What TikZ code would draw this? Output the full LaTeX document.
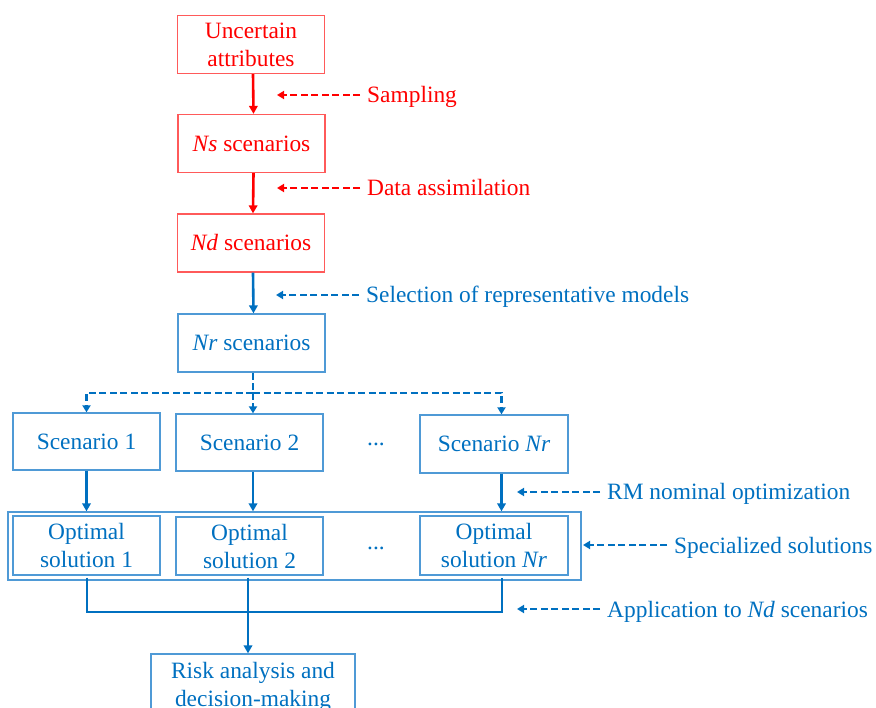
\documentclass[tikz,border=0pt]{standalone}
\usepackage{fontspec}
\setmainfont{Liberation Serif}
\usetikzlibrary{arrows.meta}
\definecolor{rd}{HTML}{FF0000}
\definecolor{rdbox}{HTML}{FF5A5A}
\definecolor{bl}{HTML}{0070C0}
\definecolor{blbox}{HTML}{4F9AD6}
\begin{document}
\begin{tikzpicture}[x=1pt,y=-1pt,
  every node/.style={font=\fontsize{23.4}{28}\selectfont, align=center, inner sep=0pt},
  box/.style={draw, line width=1.3pt, minimum width=147pt, minimum height=58pt},
  redbox/.style={box, draw=rdbox, text=rd},
  bluebox/.style={box, draw=blbox, text=bl},
  flow/.style={line width=2.6pt, -{Triangle[length=8pt,width=8.5pt]}},
  plain/.style={line width=2.6pt},
  hint/.style={line width=2.6pt, dash pattern=on 7pt off 3.5pt, -{Triangle[length=7pt,width=8pt]}},
  dashline/.style={line width=2.6pt, dash pattern=on 7pt off 3.5pt},
  lbl/.style={anchor=base west}]
\useasboundingbox (0,0) rectangle (876,708);

% red part of the chain
\node[redbox] (ua) at (251,44.5) {Uncertain\\attributes};
\node[redbox] (ns) at (251.5,143.5) {\textit{Ns} scenarios};
\node[redbox] (nd) at (251,243) {\textit{Nd} scenarios};
\node[bluebox] (nr) at (251.5,343) {\textit{Nr} scenarios};

\draw[flow, rd] ([xshift=2pt]ua.south) -- ([xshift=2pt]ns.north);
\draw[flow, rd] ([xshift=2pt]ns.south) -- ([xshift=2pt]nd.north);
\draw[flow, bl] ([xshift=2pt]nd.south) -- ([xshift=2pt]nr.north);

% side notes of the chain
\node[lbl, text=rd] (samp) at (367,103) {Sampling};
\node[lbl, text=rd] (assim) at (367,196) {Data assimilation};
\node[lbl, text=bl] (sel) at (366,303) {Selection of representative models};
\coordinate (sampT) at (277,95);
\coordinate (assimT) at (277,188);
\coordinate (selT) at (276,295);
\draw[hint, rd] (sampT -| samp.west) ++(-7pt,0) -- (sampT);
\draw[hint, rd] (assimT -| assim.west) ++(-7pt,0) -- (assimT);
\draw[hint, bl] (selT -| sel.west) ++(-7pt,0) -- (selT);

% scenarios
\node[bluebox, minimum height=57pt] (s1) at (86.5,441.5) {Scenario 1};
\node[bluebox, minimum height=57pt] (s2) at (249.5,442.5) {Scenario 2};
\node[bluebox, minimum width=148pt] (sN) at (494,444) {Scenario \textit{Nr}};
\node[text=bl] (dots1) at (376,444) {...};

\coordinate (sp) at (253,393);
\draw[dashline, bl] ([xshift=1.5pt]nr.south) -- (sp);
\draw[hint, bl] (sp) -| (s1.north);
\draw[hint, bl] (sp) -- (s2.north -| sp);
\draw[hint, bl] (sp) -| ([xshift=7.5pt]sN.north);

% optimal solutions
\node[draw=blbox, line width=1.3pt, minimum width=573pt, minimum height=68pt] (outer) at (294.5,546) {};
\node[bluebox, minimum height=59pt] (o1) at (86.5,545.5) {Optimal\\solution 1};
\node[bluebox] (o2) at (249.5,546) {Optimal\\solution 2};
\node[bluebox, minimum width=148pt, minimum height=59pt] (oN) at (494,545.5) {Optimal\\solution \textit{Nr}};
\node[text=bl] (dots2) at (376,548) {...};

\draw[flow, bl] (s1.south) -- (s1.south |- outer.north);
\draw[flow, bl] ([xshift=3.5pt]s2.south) -- ([xshift=3.5pt]s2.south |- outer.north);
\draw[flow, bl] ([xshift=7.5pt]sN.south) -- ([xshift=7.5pt]sN.south |- outer.north);

\node[lbl, text=bl] (rmopt) at (607,500) {RM nominal optimization};
\node[lbl, text=bl] (spec) at (674,553) {Specialized solutions};
\coordinate (rmT) at (517,492);
\coordinate (specT) at (583,545);
\draw[hint, bl] (rmT -| rmopt.west) ++(-7pt,0) -- (rmT);
\draw[hint, bl] (specT -| spec.west) ++(-7pt,0) -- (specT);

% gathering of the solutions
\node[bluebox, minimum width=204pt, minimum height=66pt] (risk) at (253,687) {Risk analysis and\\decision-making};
\coordinate (jl) at (87,612);
\coordinate (jr) at (502,612);
\draw[plain, bl] ([yshift=3pt]outer.south -| jl) -- (jl) -- (jr) -- ([yshift=3pt]outer.south -| jr);
\draw[flow, bl] ([xshift=-5pt,yshift=3pt]risk.north |- outer.south) -- ([xshift=-5pt]risk.north);

\node[lbl, text=bl] (appl) at (607,617) {Application to \textit{Nd} scenarios};
\coordinate (applT) at (517,609);
\draw[hint, bl] (applT -| appl.west) ++(-7pt,0) -- (applT);
\end{tikzpicture}
\end{document}
